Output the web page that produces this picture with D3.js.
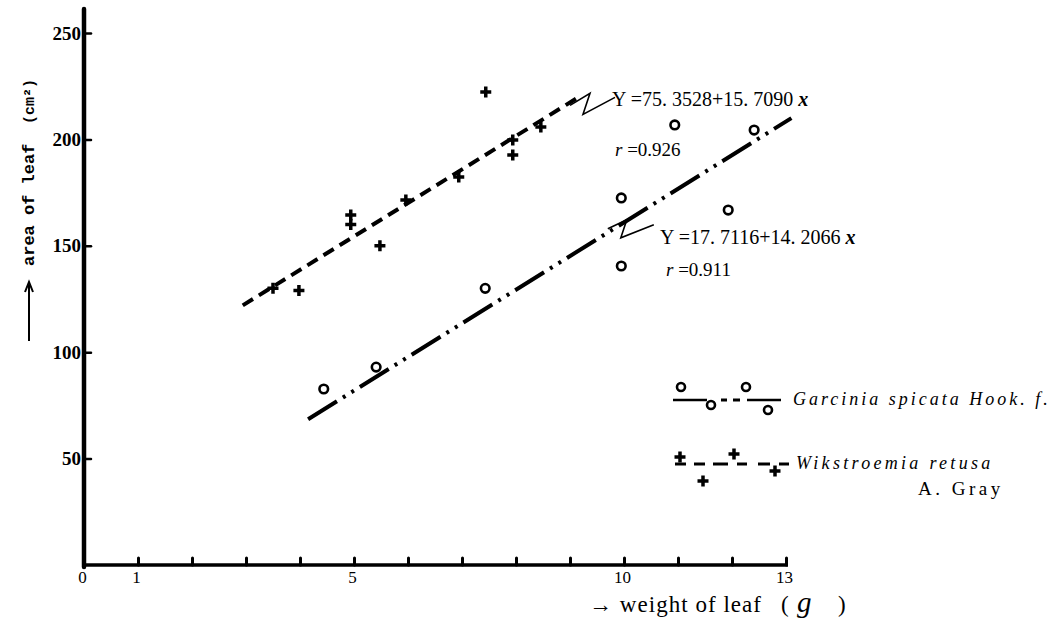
<!DOCTYPE html>
<html><head><meta charset="utf-8">
<script src="https://cdn.jsdelivr.net/npm/d3@7"></script>
<style>body{margin:0;background:#fff}svg{display:block}</style>
</head><body>
<svg id="chart" width="1061" height="629"></svg>
<script>
// ---- data ----
const xTickValues = [1,2,3,4,5,6,7,8,9,10,11,12,13];
const xTickLabels = [0,1,5,10,13];
const yTickLabels = [50,100,150,200,250];

// Wikstroemia retusa (+)
const wikX = [3.5, 3.98, 4.94, 4.94, 5.48, 5.96, 6.94, 7.44, 7.94, 7.94, 8.46];
const wikY = [130, 129, 164.5, 160, 150, 171.5, 182.3, 222.3, 199.7, 192.7, 205.8];
// Garcinia spicata (o)
const garX = [4.44, 5.41, 7.43, 9.95, 9.95, 11.93, 10.94, 12.41];
const garY = [82.7, 93, 130, 172.5, 140.5, 166.8, 206.8, 204.4];

// fitted lines as drawn (end points)
const wikLineX = [2.94, 9.2];
const wikLineY = [122, 220.5];
const garLineX = [4.15, 13.1];
const garLineY = [68.5, 210];

const wikEquation = ["Y =75. 3528+15. 7090", "r =0.926"];
const garEquation = ["Y =17. 7116+14. 2066", "r =0.911"];
const legendNames = ["Garcinia spicata Hook. f.", "Wikstroemia retusa", "A. Gray"];

// ---- drawing ----
const svg = d3.select("#chart");
svg.append("rect").attr("width",1061).attr("height",629).attr("fill","#fff");
const x = d3.scaleLinear().domain([0,13]).range([84,786]);
const y = d3.scaleLinear().domain([0,250]).range([565,33]);

const serif = "'Liberation Serif','Times New Roman',serif";

// axes lines
svg.append("line").attr("x1",x(0)).attr("x2",x(0)).attr("y1",9).attr("y2",y(0)+2)
  .attr("stroke","#000").attr("stroke-width",4.5).attr("stroke-linecap","round");
svg.append("line").attr("x1",x(0)-2).attr("x2",x(13)+2).attr("y1",y(0)).attr("y2",y(0))
  .attr("stroke","#000").attr("stroke-width",3.5);

// x ticks
const gxt = svg.append("g").attr("transform",`translate(0,${y(0)})`)
  .call(d3.axisBottom(x).tickValues(xTickValues).tickSize(-7).tickFormat(""));
gxt.select(".domain").remove();
gxt.selectAll(".tick line").attr("stroke","#000").attr("stroke-width",3).attr("stroke-linecap","round");

const gxl = svg.append("g").attr("transform",`translate(-2,${y(0)})`)
  .call(d3.axisBottom(x).tickValues(xTickLabels).tickSize(0).tickPadding(6).tickFormat(d3.format("d")));
gxl.select(".domain").remove();
gxl.selectAll("text").attr("font-family",serif).attr("font-size",17).attr("fill","#000");

// y ticks
const gyt = svg.append("g").attr("transform",`translate(${x(0)},0)`)
  .call(d3.axisLeft(y).tickValues(yTickLabels).tickSize(-7).tickFormat(""));
gyt.select(".domain").remove();
gyt.selectAll(".tick line").attr("stroke","#000").attr("stroke-width",2.5).attr("stroke-linecap","round");

const gyl = svg.append("g").attr("transform",`translate(${x(0)},0)`)
  .call(d3.axisLeft(y).tickValues(yTickLabels).tickSize(0).tickPadding(3).tickFormat(d3.format("d")));
gyl.select(".domain").remove();
gyl.selectAll("text").attr("font-family",serif).attr("font-weight","bold").attr("font-size",19).attr("fill","#000");

// y axis title
const yt = svg.append("g").attr("transform","translate(29,0)");
yt.append("line").attr("x1",0).attr("x2",0).attr("y1",341).attr("y2",285)
  .attr("stroke","#000").attr("stroke-width",2);
yt.append("path").attr("d","M-4,292 L0,282 L4,292").attr("fill","none").attr("stroke","#000").attr("stroke-width",2);
yt.append("text").attr("transform","translate(5,266) rotate(-90)")
  .attr("font-family","'Liberation Mono',monospace").attr("font-weight","bold").attr("font-size",17)
  .text("area of leaf");
yt.append("text").attr("transform","translate(5,124) rotate(-90)")
  .attr("font-family","'Liberation Mono',monospace").attr("font-weight","bold").attr("font-size",15)
  .text("(cm²)");

// x axis title
const xtg = svg.append("g").attr("font-family",serif).attr("fill","#000");
xtg.append("text").attr("x",589).attr("y",612).attr("font-size",23).attr("textLength",172).text("→ weight of leaf");
xtg.append("text").attr("x",781).attr("y",612).attr("font-size",23).text("(");
xtg.append("text").attr("x",797).attr("y",612).attr("font-size",29).attr("font-style","italic").text("g");
xtg.append("text").attr("x",838).attr("y",612).attr("font-size",23).text(")");

// regression lines
const line = d3.line().x(d=>x(d[0])).y(d=>y(d[1]));
svg.append("path").datum(d3.zip(wikLineX, wikLineY)).attr("d",line)
  .attr("fill","none").attr("stroke","#000").attr("stroke-width",4)
  .attr("stroke-dasharray","12,7");
svg.append("path").datum(d3.zip(garLineX, garLineY)).attr("d",line)
  .attr("fill","none").attr("stroke","#000").attr("stroke-width",4)
  .attr("stroke-dasharray","34,7,3,7,3,7");

// markers
const plusPath = "M-5.5,0H5.5M0,-5.5V5.5";
svg.append("g").selectAll("path").data(d3.zip(wikX,wikY)).join("path")
  .attr("transform",d=>`translate(${x(d[0])},${y(d[1])})`)
  .attr("d",plusPath).attr("stroke","#000").attr("stroke-width",3.5).attr("fill","none");
svg.append("g").selectAll("circle").data(d3.zip(garX,garY)).join("circle")
  .attr("cx",d=>x(d[0])).attr("cy",d=>y(d[1])).attr("r",4.3)
  .attr("fill","#fff").attr("stroke","#000").attr("stroke-width",2.6);

// equation annotations with zigzag leaders
function annotate(lx, ly, zig, tx, ty, eq, rdx, rdy){
  const px = x(lx), py = y(ly);
  const pts = zig.map(p=>[px+p[0], py+p[1]]);
  svg.append("path").attr("d", d3.line()(pts)).attr("fill","none").attr("stroke","#000").attr("stroke-width",1.6);
  const t = svg.append("text").attr("x",tx).attr("y",ty).attr("font-family",serif).attr("font-size",20).attr("fill","#000");
  t.append("tspan").text(eq[0]);
  t.append("tspan").attr("font-style","italic").attr("font-weight","bold").text(" x");
  const r = svg.append("text").attr("x",tx+rdx).attr("y",ty+rdy).attr("font-family",serif).attr("font-size",19).attr("fill","#000");
  r.append("tspan").attr("font-style","italic").text("r");
  r.append("tspan").text(eq[1].slice(1));
}
annotate(9.0, 216, [[0,0],[20,-12],[13,9],[45,-8]], 612, 106, wikEquation, 3, 50);
annotate(9.7, 158, [[0,0],[19,-9],[13,9],[46,-4]], 660, 244, garEquation, 6, 32);

// legend
const lg = svg.append("g");
// Garcinia row
const gy0 = 400;
[[673,707],[747,781]].forEach(s=>lg.append("line").attr("x1",s[0]).attr("x2",s[1]).attr("y1",gy0).attr("y2",gy0).attr("stroke","#000").attr("stroke-width",2.5));
[[721,727],[733,740]].forEach(s=>lg.append("line").attr("x1",s[0]).attr("x2",s[1]).attr("y1",gy0).attr("y2",gy0).attr("stroke","#000").attr("stroke-width",3));
[[681,gy0-13],[711,gy0+5],[746,gy0-13],[768,gy0+10]].forEach(p=>lg.append("circle").attr("cx",p[0]).attr("cy",p[1]).attr("r",4)
  .attr("fill","#fff").attr("stroke","#000").attr("stroke-width",2.6));
lg.append("text").attr("x",793).attr("y",gy0+5).attr("font-family",serif).attr("font-style","italic")
  .attr("font-size",18).attr("letter-spacing",3).text(legendNames[0]);
// Wikstroemia row
const wy0 = 464;
[[675,686],[694,705],[713,728],[737,747],[758,770],[779,789]].forEach(s=>lg.append("line").attr("x1",s[0]).attr("x2",s[1]).attr("y1",wy0).attr("y2",wy0).attr("stroke","#000").attr("stroke-width",3));
[[680,wy0-7],[703,wy0+17],[734,wy0-10],[775,wy0+7]].forEach(p=>lg.append("path").attr("transform",`translate(${p[0]},${p[1]})`)
  .attr("d",plusPath).attr("stroke","#000").attr("stroke-width",3.5).attr("fill","none"));
lg.append("text").attr("x",796).attr("y",wy0+5).attr("font-family",serif).attr("font-style","italic")
  .attr("font-size",18).attr("letter-spacing",3.3).text(legendNames[1]);
lg.append("text").attr("x",918).attr("y",wy0+31).attr("font-family",serif)
  .attr("font-size",19).attr("letter-spacing",3.5).text(legendNames[2]);
</script>
</body></html>
